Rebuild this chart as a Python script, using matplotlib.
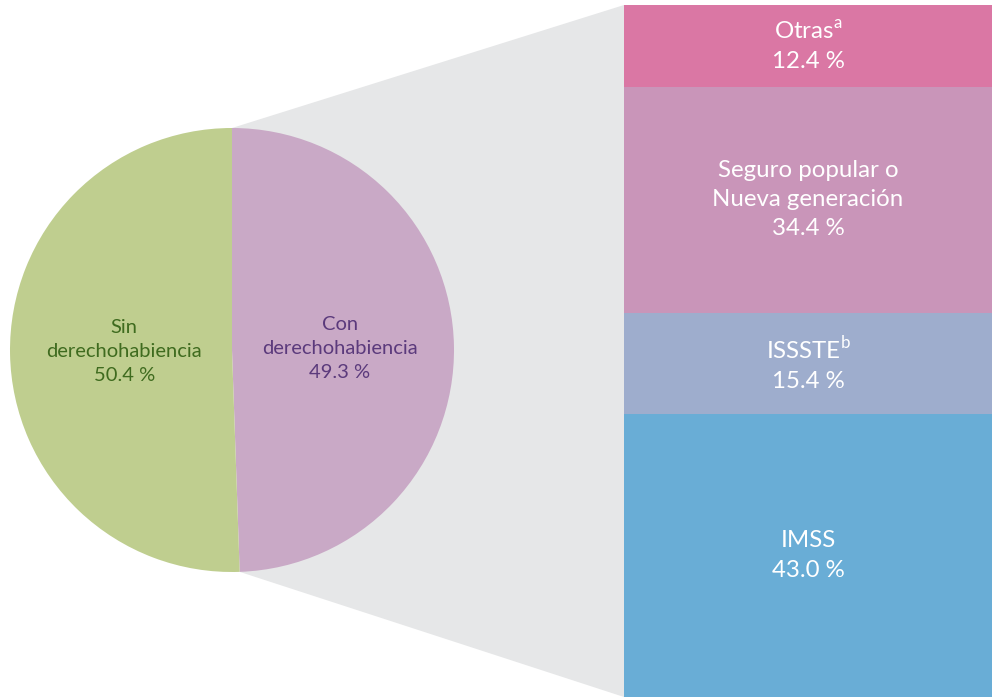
import matplotlib.pyplot as plt
import numpy as np
from matplotlib.patches import Polygon

plt.rcParams['font.family'] = ['Lato', 'DejaVu Sans']
plt.rcParams['mathtext.fontset'] = 'custom'
plt.rcParams['mathtext.rm'] = 'Lato'

# pie data
pie_labels = ['Con\nderechohabiencia', 'Sin\nderechohabiencia']
pie_values = [49.3, 50.4]
pie_colors = ['#c9a9c6', '#bfce8f']
pie_text_colors = ['#5b3a7c', '#3f6b1f']

# stacked bar data (bottom to top)
bar_labels = ['IMSS', 'ISSSTE$^{\\mathrm{b}}$', 'Seguro popular o\nNueva generación', 'Otras$^{\\mathrm{a}}$']
bar_values = [43.0, 15.4, 34.4, 12.4]
bar_colors = ['#69add6', '#9eadcd', '#c995b9', '#da77a4']

W, H = 992, 697
fig = plt.figure(figsize=(W / 100, H / 100), dpi=100)

# pie axes: center (232, 350) px, radius 222 px
cx, cy, r = 232, 350, 222
ax_pie = fig.add_axes([(cx - r) / W, (H - cy - r) / H, 2 * r / W, 2 * r / H])
wedges, _ = ax_pie.pie(pie_values, colors=pie_colors, startangle=90, counterclock=False,
                       radius=1, wedgeprops=dict(linewidth=0))
ax_pie.set_xlim(-1, 1)
ax_pie.set_ylim(-1, 1)
ax_pie.set_aspect('auto')
ax_pie.axis('off')
for w, lab, val, tc in zip(wedges, pie_labels, pie_values, pie_text_colors):
    ang = np.deg2rad((w.theta1 + w.theta2) / 2)
    ax_pie.text(0.485 * np.cos(ang), 0.485 * np.sin(ang), f'{lab}\n{val:.1f} %',
                ha='center', va='center', color=tc, fontsize=14.5, linespacing=1.5)

# stacked bar axes
bar_top = 5
ax_bar = fig.add_axes([624 / W, 0, (W - 624) / W, (H - bar_top) / H])
bottom = 0
for lab, val, col in zip(bar_labels, bar_values, bar_colors):
    ax_bar.bar(0, val, width=1, bottom=bottom, color=col, linewidth=0)
    ax_bar.text(0, bottom + val / 2, f'{lab}\n{val:.1f} %', ha='center', va='center',
                color='white', fontsize=17.3, linespacing=1.48)
    bottom += val
ax_bar.set_xlim(-0.5, 0.5)
ax_bar.set_ylim(0, bottom)
ax_bar.axis('off')

# grey connector from pie wedge "Con" to the bar
con = wedges[0]
p_top = (cx + r * np.cos(np.deg2rad(con.theta2)), cy - r * np.sin(np.deg2rad(con.theta2)))
p_bot = (cx + r * np.cos(np.deg2rad(con.theta1)), cy - r * np.sin(np.deg2rad(con.theta1)))
pts = [p_top, (624, bar_top), (624, H), p_bot]
poly = Polygon([(x / W, 1 - y / H) for x, y in pts], closed=True, transform=fig.transFigure,
               facecolor='#e6e7e8', edgecolor='none', zorder=-1)
fig.patches.append(poly)

fig.savefig('out.png', dpi=100)
